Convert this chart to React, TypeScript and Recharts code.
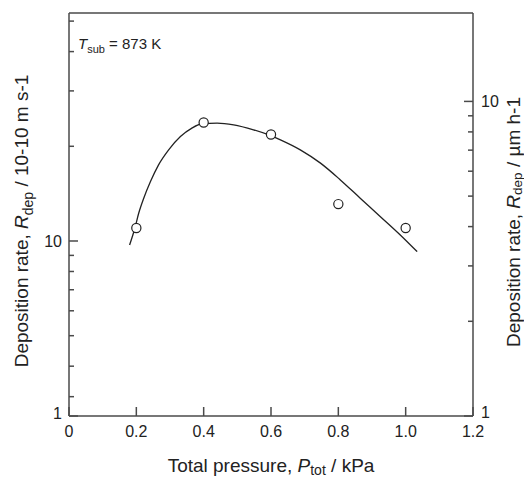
import React from 'react';
import { ComposedChart, Line, Scatter, XAxis, YAxis } from 'recharts';

// Measured data: total pressure (kPa) vs deposition rate (10^-10 m s^-1)
const pressureKPa = [0.2, 0.4, 0.6, 0.8, 1.0];
const depRate = [11.0, 23.8, 21.8, 13.1, 11.0];

// Fitted curve
const fitPressureKPa = [0.18, 0.196, 0.207, 0.222, 0.242, 0.266, 0.296, 0.331, 0.365, 0.395, 0.44, 0.489, 0.548, 0.598, 0.628, 0.687, 0.747, 0.806, 0.865, 0.925, 0.984, 1.034];
const fitDepRate = [9.71, 11.02, 12.25, 13.68, 15.45, 17.46, 19.49, 21.48, 22.85, 23.59, 23.71, 23.41, 22.57, 21.65, 20.97, 19.49, 17.68, 15.64, 13.68, 11.95, 10.45, 9.25];

const xTicks = [0, 0.2, 0.4, 0.6, 0.8, 1.0, 1.2];
const xTickLabels = ['0', '0.2', '0.4', '0.6', '0.8', '1.0', '1.2'];

// right axis in µm h^-1 ; 1e-10 m/s = 0.36 µm/h
const CONV = 0.36;
const rightDomain = [1, 19.1];
const leftDomain = [rightDomain[0] / CONV, rightDomain[1] / CONV];

const leftTicks = [leftDomain[0], 3.2, 4, 5, 6, 7, 8, 9, 10, 20, 30, 40, 50];
const leftTickLabels = ['1', '', '', '', '', '', '', '', '10', '', '', '', ''];
const rightTicks = [1, 2, 3, 4, 5, 6, 7, 8, 9, 10];
const rightTickLabels = ['1', '', '', '', '', '', '', '', '', '10'];

const fitData = fitPressureKPa.map((p, i) => ({ p, r: fitDepRate[i] }));
const pointData = pressureKPa.map((p, i) => ({ p, r: depRate[i] }));

const W = 524;
const H = 477;
const LEFT_W = 61;
const RIGHT_W = 51;
const X_H = 61;

const AXIS = '#4a4a4a';
const TEXT = '#222';
const FONT = '"Liberation Sans", Arial, Helvetica, sans-serif';

function XTick(props: any) {
  const { x, y, index } = props;
  const label = xTickLabels[index] ?? '';
  return (
    <g>
      <line x1={x} x2={x} y1={y} y2={y - 9} stroke={AXIS} strokeWidth={1.5} />
      <text x={x} y={y + 21} textAnchor="middle" fontSize={16} fill={TEXT} fontFamily={FONT}>
        {label}
      </text>
    </g>
  );
}

function LeftTick(props: any) {
  const { x, y, index } = props;
  const label = leftTickLabels[index] ?? '';
  const len = label ? 9 : 5;
  const dy = index === 0 ? -3 : 0;
  return (
    <g>
      <line x1={x} x2={x + len} y1={y} y2={y} stroke={AXIS} strokeWidth={1.5} />
      <text x={x - 7} y={y + dy} dy="0.36em" textAnchor="end" fontSize={16} fill={TEXT} fontFamily={FONT}>
        {label}
      </text>
    </g>
  );
}

function RightTick(props: any) {
  const { x, y, index } = props;
  const label = rightTickLabels[index] ?? '';
  const len = label ? 9 : 5;
  const dy = index === 0 ? -4 : 0;
  return (
    <g>
      <line x1={x} x2={x - len} y1={y} y2={y} stroke={AXIS} strokeWidth={1.5} />
      <text x={x + 8} y={y + dy} dy="0.36em" textAnchor="start" fontSize={16} fill={TEXT} fontFamily={FONT}>
        {label}
      </text>
    </g>
  );
}

const LeftTitle = () => {
  const cx = 28;
  const cy = 221;
  return (
    <g>
      <text x={cx} y={cy} transform={`rotate(-90, ${cx}, ${cy})`} textAnchor="middle" fontSize={19} fill={TEXT} fontFamily={FONT}>
        <tspan>Deposition rate, </tspan>
        <tspan fontStyle="italic">R</tspan>
        <tspan fontSize={14} dy={5}>dep</tspan>
        <tspan dy={-5}> / 10-10 m s-1</tspan>
      </text>
      <text x={78} y={48.5} fontSize={15} fill={TEXT} fontFamily={FONT}>
        <tspan fontStyle="italic">T</tspan>
        <tspan fontSize={11} dy={4}>sub</tspan>
        <tspan dy={-4}> = 873 K</tspan>
      </text>
    </g>
  );
};

const RightTitle = () => {
  const cx = 519.5;
  const cy = 222;
  return (
    <text x={cx} y={cy} transform={`rotate(-90, ${cx}, ${cy})`} textAnchor="middle" fontSize={19} fill={TEXT} fontFamily={FONT}>
      <tspan>Deposition rate, </tspan>
      <tspan fontStyle="italic">R</tspan>
      <tspan fontSize={13.5} dy={2.5}>dep</tspan>
      <tspan dy={-2.5}> / µm h-1</tspan>
    </text>
  );
};

const XTitle = () => (
  <text x={271} y={471.5} textAnchor="middle" fontSize={19} fill={TEXT} fontFamily={FONT}>
    <tspan>Total pressure, </tspan>
    <tspan fontStyle="italic">P</tspan>
    <tspan fontSize={14} dy={3}>tot</tspan>
    <tspan dy={-3}> / kPa</tspan>
  </text>
);

const PointShape = (props: any) => {
  const { cx, cy } = props;
  if (cx == null || cy == null) return null;
  return <circle cx={cx} cy={cy} r={4.6} fill="#fff" stroke="#222" strokeWidth={1.2} />;
};

export default function App() {
  return (
    <div style={{ width: W, height: H }}>
      <style>{'html, body { margin: 0; padding: 0; overflow: hidden; } #root { width: 524px; height: 477px; overflow: visible; }'}</style>
      <ComposedChart width={W} height={H} margin={{ top: 12, right: 0, bottom: 0, left: 8 }}>
        <XAxis
          xAxisId="bottom"
          type="number"
          dataKey="p"
          domain={[0, 1.2]}
          ticks={xTicks}
          interval={0}
          height={X_H}
          tickSize={0}
          tickMargin={0}
          tickLine={false}
          tick={<XTick />}
          axisLine={{ stroke: AXIS, strokeWidth: 1.5 }}
          allowDataOverflow
          label={{ content: () => <XTitle /> }}
        />
        <XAxis
          xAxisId="top"
          orientation="top"
          type="number"
          domain={[0, 1.2]}
          height={1}
          tick={false}
          tickLine={false}
          axisLine={{ stroke: AXIS, strokeWidth: 1.5 }}
        />
        <YAxis
          yAxisId="left"
          orientation="left"
          type="number"
          scale="log"
          domain={leftDomain}
          allowDataOverflow
          ticks={leftTicks}
          interval={0}
          width={LEFT_W}
          tickSize={0}
          tickMargin={0}
          tickLine={false}
          tick={<LeftTick />}
          axisLine={{ stroke: AXIS, strokeWidth: 1.5 }}
          label={{ content: () => <LeftTitle /> }}
        />
        <YAxis
          yAxisId="right"
          orientation="right"
          type="number"
          scale="log"
          domain={rightDomain}
          allowDataOverflow
          ticks={rightTicks}
          interval={0}
          width={RIGHT_W}
          tickSize={0}
          tickMargin={0}
          tickLine={false}
          tick={<RightTick />}
          axisLine={{ stroke: AXIS, strokeWidth: 1.5 }}
          label={{ content: () => <RightTitle /> }}
        />
        <Line
          xAxisId="bottom"
          yAxisId="left"
          data={fitData}
          dataKey="r"
          type="monotone"
          stroke="#222"
          strokeWidth={1.3}
          dot={false}
          activeDot={false}
          isAnimationActive={false}
        />
        <Scatter
          xAxisId="bottom"
          yAxisId="left"
          data={pointData}
          dataKey="r"
          shape={<PointShape />}
          isAnimationActive={false}
        />
      </ComposedChart>
    </div>
  );
}
